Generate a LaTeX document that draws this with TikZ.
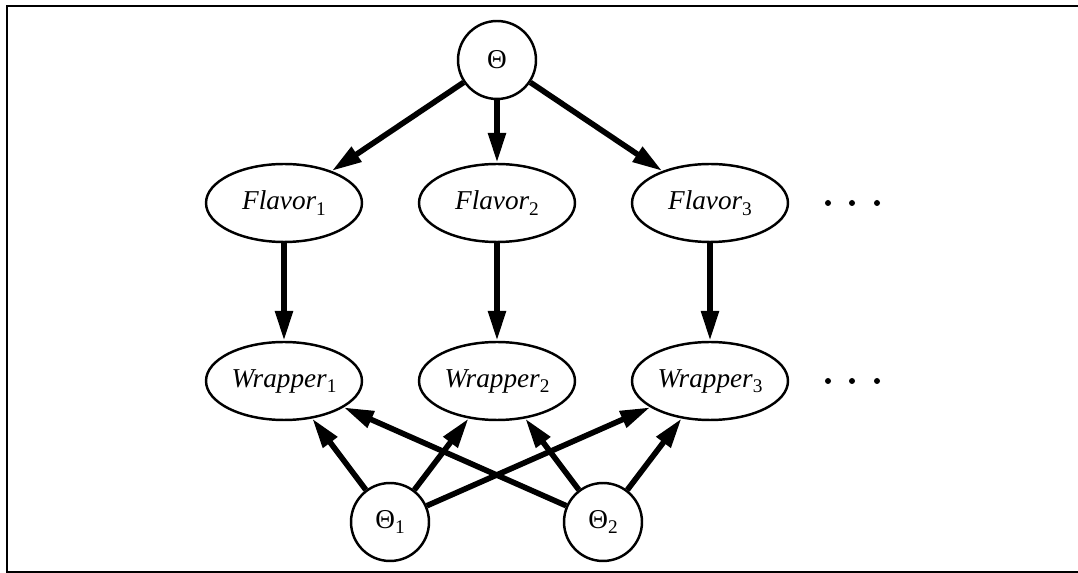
\documentclass[tikz,border=0pt]{standalone}
\usepackage{fontspec}
\setmainfont{Liberation Serif}
\usetikzlibrary{arrows.meta, positioning, shapes.geometric}
\newcommand{\sub}[1]{\raisebox{-0.45ex}{\upshape\fontsize{11}{11}\selectfont #1}}

\begin{document}
\begin{tikzpicture}[x=0.02cm, y=-0.02cm,
    var/.style={draw, ellipse, line width=1.4pt, minimum width=3.12cm, minimum height=1.56cm, inner sep=0pt, font=\fontsize{15.5}{18}\selectfont\itshape},
    param/.style={draw, circle, line width=1.4pt, minimum size=1.56cm, inner sep=0pt, font=\fontsize{15.5}{18}\selectfont},
    dep/.style={line width=3.2pt, -{Triangle[length=6mm, width=3.4mm]}}]
    \useasboundingbox (0,0) rectangle (1078,573);
    % Frame
    \draw[line width=1.4pt] (1078,6) -- (7,6) -- (7,572) -- (1078,572);

    % Prior
    \node[param] (th) at (497,60) {Θ};

    % Flavors
    \node[var] (f1) at (284,203) {Flavor\sub{1}};
    \node[var] (f2) at (497,203) {Flavor\sub{2}};
    \node[var] (f3) at (710,203) {Flavor\sub{3}};
    \foreach \x in {828,852,877} \fill (\x,203) circle (3);

    % Wrappers
    \node[var] (w1) at (284,381) {Wrapper\sub{1}};
    \node[var] (w2) at (497,381) {Wrapper\sub{2}};
    \node[var] (w3) at (710,381) {Wrapper\sub{3}};
    \foreach \x in {828,852,877} \fill (\x,381) circle (3);

    % Wrapper parameters
    \node[param] (th1) at (390,522) {Θ\sub{1}};
    \node[param] (th2) at (603,522) {Θ\sub{2}};

    \foreach \i in {1,2,3} {
        \draw[dep] (th) -- (f\i);
        \draw[dep] (f\i) -- (w\i);
        \draw[dep] (th1) -- (w\i);
        \draw[dep] (th2) -- (w\i);
    }
\end{tikzpicture}
\end{document}
